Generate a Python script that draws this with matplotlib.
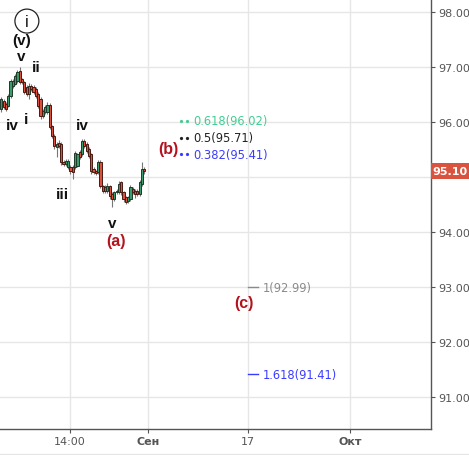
import matplotlib
matplotlib.use("Agg")
import matplotlib.pyplot as plt
from matplotlib.patches import Rectangle
from matplotlib.transforms import blended_transform_factory
import numpy as np

# candle data (hourly bars)
opens = [96.23, 96.38, 96.32, 96.29, 96.47, 96.65, 96.69, 96.74, 96.92, 96.78,
         96.72, 96.63, 96.51, 96.65, 96.63, 96.60, 96.51, 96.41, 96.11, 96.18,
         96.18, 96.31, 95.92, 95.74, 95.54, 95.62, 95.60, 95.27, 95.23, 95.18,
         95.18, 95.18, 95.18, 95.20, 95.45, 95.41, 95.65, 95.60, 95.51, 95.41,
         95.14, 95.10, 95.09, 95.27, 94.83, 94.74, 94.74, 94.83, 94.69, 94.60,
         94.72, 94.72, 94.90, 94.72, 94.63, 94.56, 94.60, 94.78, 94.74, 94.74,
         94.69, 94.87, 95.14]
closes = [96.41, 96.27, 96.23, 96.47, 96.74, 96.74, 96.83, 96.90, 96.72, 96.72,
          96.54, 96.51, 96.65, 96.60, 96.54, 96.47, 96.29, 96.11, 96.20, 96.27,
          96.31, 95.91, 95.74, 95.56, 95.60, 95.56, 95.27, 95.23, 95.29, 95.29,
          95.10, 95.09, 95.43, 95.41, 95.36, 95.65, 95.56, 95.47, 95.38, 95.10,
          95.09, 95.07, 95.27, 94.83, 94.74, 94.82, 94.83, 94.65, 94.60, 94.72,
          94.74, 94.87, 94.72, 94.60, 94.54, 94.63, 94.82, 94.72, 94.69, 94.69,
          94.91, 95.14, 95.10]
highs = [96.45, 96.42, 96.36, 96.50, 96.78, 96.78, 96.86, 96.94, 96.99, 96.80,
         96.75, 96.66, 96.70, 96.68, 96.66, 96.63, 96.54, 96.45, 96.23, 96.30,
         96.36, 96.34, 95.95, 95.78, 95.64, 95.66, 95.63, 95.30, 95.33, 95.32,
         95.22, 95.21, 95.47, 95.44, 95.48, 95.68, 95.68, 95.63, 95.54, 95.44,
         95.17, 95.13, 95.30, 95.30, 94.86, 94.85, 94.88, 94.86, 94.72, 94.75,
         94.77, 94.92, 94.93, 94.75, 94.66, 94.66, 94.85, 94.81, 94.77, 94.78,
         94.94, 95.27, 95.17]
lows = [96.18, 96.24, 96.19, 96.26, 96.44, 96.62, 96.66, 96.71, 96.69, 96.68,
        96.50, 96.47, 96.41, 96.56, 96.50, 96.43, 96.25, 96.05, 96.07, 96.14,
        96.15, 95.87, 95.70, 95.50, 95.36, 95.52, 95.22, 95.19, 95.20, 95.14,
        95.06, 94.96, 95.15, 95.17, 95.32, 95.38, 95.52, 95.44, 95.34, 95.06,
        95.05, 95.03, 95.05, 94.79, 94.70, 94.70, 94.70, 94.60, 94.45, 94.56,
        94.69, 94.69, 94.67, 94.55, 94.50, 94.52, 94.56, 94.68, 94.62, 94.65,
        94.65, 94.84, 95.06]

last_price = 95.10

# x axis (bar index units)
x_ticks = [29.8, 63.5, 107.1, 151.2]
x_labels = ["14:00", "Сен", "17", "Окт"]
y_ticks = [91, 92, 93, 94, 95, 96, 97, 98]

# fibonacci projections
fib_upper = [(0.618, 96.02, "#3fcf93"), (0.5, 95.71, "#222222"), (0.382, 95.41, "#3b3bff")]
fib_lower = [("1", 92.99, "#8a8a8a"), ("1.618", 91.41, "#3b3bff")]

# wave labels: text, x, y
black_labels = [("(v)", 9.0, 97.49), ("v", 8.5, 97.19), ("ii", 15.0, 96.99),
                ("iv", 4.6, 95.94), ("i", 10.7, 96.05), ("iv", 35.0, 95.94),
                ("iii", 26.3, 94.69), ("v", 48.0, 94.16)]
red_labels = [("(a)", 49.7, 93.85), ("(b)", 72.3, 95.52), ("(c)", 105.2, 92.71)]

fig = plt.figure(figsize=(4.69, 4.56), dpi=100)
ax = fig.add_axes([0, 26 / 456, 431 / 469, 430 / 456])
ax.set_xlim(-0.56, 186.3)
ax.set_ylim(90.418, 98.231)

for y in y_ticks:
    ax.axhline(y, color="#e6e6e6", lw=1, zorder=0)
for x in x_ticks:
    ax.axvline(x, color="#e6e6e6", lw=1, zorder=0)

idx = np.arange(len(opens))
o = np.array(opens)
c = np.array(closes)
up = c >= o
ax.vlines(idx, lows, highs, color="#777777", lw=0.8, zorder=2)
body = np.maximum(np.abs(c - o), 0.02)
ax.bar(idx[up], body[up], bottom=o[up], width=0.95, color="#3d9a6c",
       edgecolor="#1c3a28", linewidth=0.7, zorder=3)
ax.bar(idx[~up], body[~up], bottom=c[~up], width=0.95, color="#d9503f",
       edgecolor="#4a1a12", linewidth=0.7, zorder=3)

# fib levels
for ratio, price, col in fib_upper:
    ax.plot([77.9, 80.4], [price, price], ls="none", marker="o", ms=1.3, color=col)
    ax.text(83.1, price, f"{ratio}({price:.2f})", color=col, fontsize=8.3,
            va="center", ha="left")
for ratio, price, col in fib_lower:
    ax.plot([107.1, 111.4], [price, price], color=col, lw=1)
    ax.text(113.5, price, f"{ratio}({price:.2f})", color=col, fontsize=8.3,
            va="center", ha="left")

# wave labels
ax.text(11.1, 97.83, "i", fontsize=11.5, color="#111111", ha="center", va="center",
        family="Liberation Sans",
        bbox=dict(boxstyle="circle,pad=0.28", fc="white", ec="#222222", lw=0.9))
for t, x, y in black_labels:
    ax.text(x, y, t, fontsize=11, color="#111111", ha="center", va="center",
            family="Liberation Sans", fontweight="bold")
for t, x, y in red_labels:
    ax.text(x, y, t, fontsize=11.5, color="#b3121e", ha="center", va="center",
            family="Liberation Sans", fontweight="bold")

# axes styling
for side in ["left", "top"]:
    ax.spines[side].set_visible(False)
for side in ["right", "bottom"]:
    ax.spines[side].set_color("#555555")
    ax.spines[side].set_linewidth(1)
ax.yaxis.tick_right()
ax.set_yticks(y_ticks)
# the 95.00 label sits under the last-price tag
ax.set_yticklabels(["" if v == 95 else f"{v:.2f}" for v in y_ticks])
ax.set_xticks(x_ticks)
ax.set_xticklabels(x_labels)
ax.tick_params(axis="both", colors="#555555", labelsize=8, length=3, width=0.8, pad=2)
for lbl in ax.get_xticklabels():
    if lbl.get_text() in ("Сен", "Окт"):
        lbl.set_fontweight("bold")

# last price tag
tr = blended_transform_factory(ax.transAxes, ax.transData)
tag_h = 16 / 55.04
ax.add_patch(Rectangle((1.0, last_price - tag_h / 2), 38 / 431, tag_h, transform=tr,
                       facecolor="#d9533f", edgecolor="none", clip_on=False, zorder=5))
ax.text(1.0 + 19 / 431, last_price, f"{last_price:.2f}", transform=tr, color="white",
        fontsize=8, fontweight="bold", ha="center", va="center", zorder=6)

fig.add_artist(plt.Line2D([0, 1], [1.5 / 456, 1.5 / 456], color="#e6e6e6", lw=1))

fig.savefig("out.png", dpi=100)
